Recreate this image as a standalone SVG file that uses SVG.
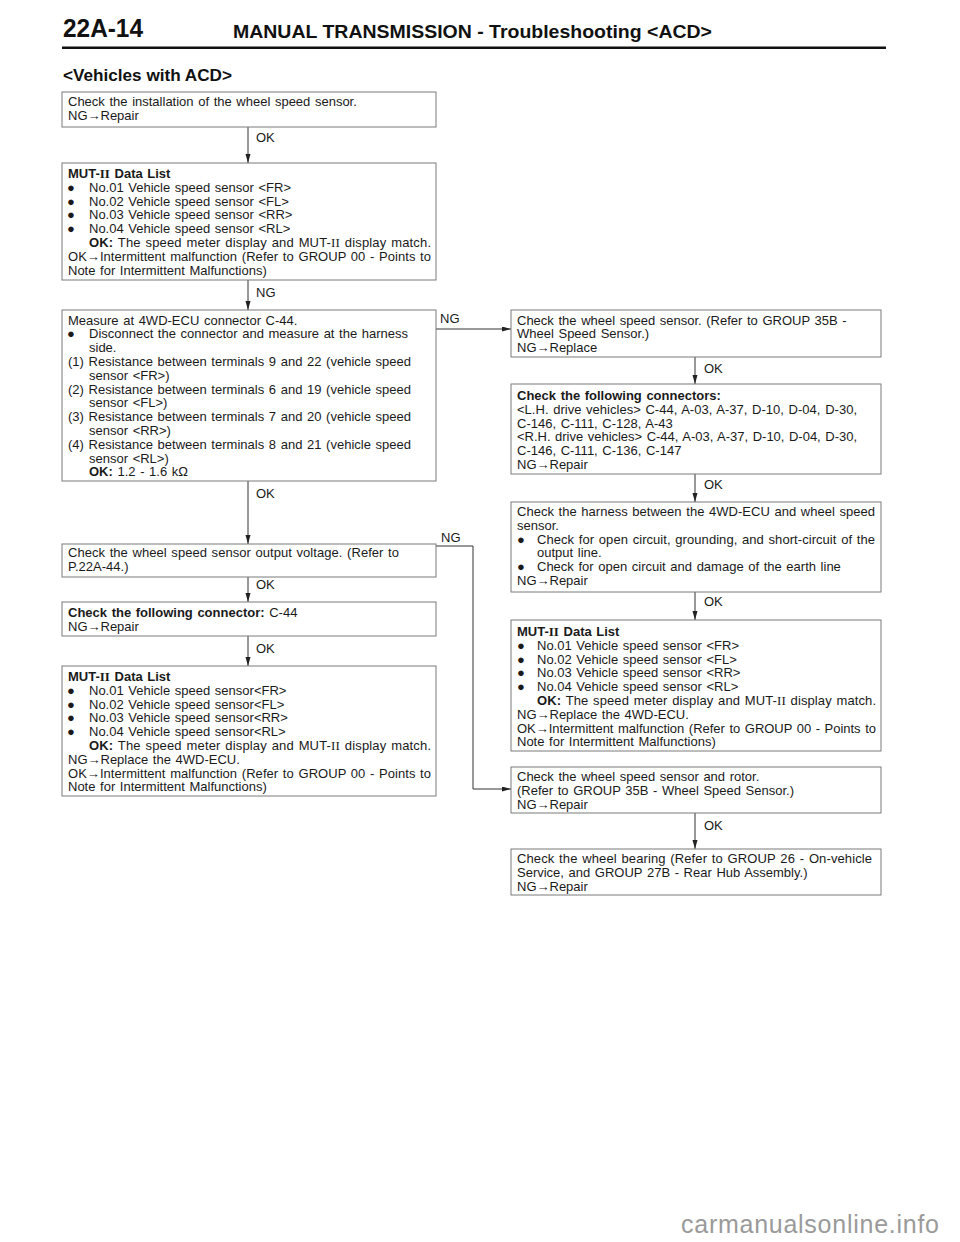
<svg xmlns="http://www.w3.org/2000/svg" width="960" height="1242" viewBox="0 0 960 1242">
<defs>
<style>
.t{font-family:"Liberation Sans",Arial,sans-serif;font-size:13px;fill:#1a1a1a;word-spacing:1px}
.b{font-weight:bold}
.s{font-family:"Liberation Serif","Times New Roman",serif}
.bu{font-family:"Liberation Sans",Arial,sans-serif;font-size:13px;fill:#1a1a1a}
.box{fill:#fff;stroke:#7a7a7a;stroke-width:1}
.c{fill:none;stroke:#333;stroke-width:1}
.h{font-family:"Liberation Sans",Arial,sans-serif;font-weight:bold;fill:#111}
</style>
<marker id="ah" markerUnits="userSpaceOnUse" markerWidth="10" markerHeight="6" refX="9" refY="2.5" orient="auto">
<path d="M0,0 L9,2.5 L0,5 z" fill="#222"/>
</marker>
</defs>
<rect width="960" height="1242" fill="#fff"/>

<g id="header">
<text class="h" x="63" y="37" font-size="25" textLength="80" lengthAdjust="spacingAndGlyphs">22A-14</text>
<text class="h" x="233" y="37.5" font-size="18" textLength="479" lengthAdjust="spacingAndGlyphs">MANUAL TRANSMISSION - Troubleshooting &lt;ACD&gt;</text>
<rect x="62" y="46.5" width="824" height="2.5" fill="#111"/>
<text class="h" x="63" y="80.5" font-size="17" textLength="169" lengthAdjust="spacingAndGlyphs">&lt;Vehicles with ACD&gt;</text>
</g>

<g id="connectors">
<line class="c" x1="248" y1="127" x2="248" y2="163" marker-end="url(#ah)"/>
<text class="t" x="256" y="142">OK</text>
<line class="c" x1="248" y1="280" x2="248" y2="310" marker-end="url(#ah)"/>
<text class="t" x="256" y="297">NG</text>
<line class="c" x1="248" y1="481" x2="248" y2="544" marker-end="url(#ah)"/>
<text class="t" x="256" y="498">OK</text>
<line class="c" x1="248" y1="577" x2="248" y2="602" marker-end="url(#ah)"/>
<text class="t" x="256" y="589">OK</text>
<line class="c" x1="248" y1="636" x2="248" y2="666" marker-end="url(#ah)"/>
<text class="t" x="256" y="653">OK</text>
<line class="c" x1="436" y1="329" x2="511" y2="329" marker-end="url(#ah)"/>
<text class="t" x="440" y="322.7">NG</text>
<polyline class="c" points="436,546 473,546 473,789 511,789" marker-end="url(#ah)"/>
<text class="t" x="441" y="542">NG</text>
<line class="c" x1="695" y1="357" x2="695" y2="384" marker-end="url(#ah)"/>
<text class="t" x="704" y="373">OK</text>
<line class="c" x1="695" y1="474" x2="695" y2="502" marker-end="url(#ah)"/>
<text class="t" x="704" y="489">OK</text>
<line class="c" x1="695" y1="592" x2="695" y2="620" marker-end="url(#ah)"/>
<text class="t" x="704" y="606">OK</text>
<line class="c" x1="695" y1="813" x2="695" y2="849" marker-end="url(#ah)"/>
<text class="t" x="704" y="830">OK</text>
</g>

<g id="n1">
<rect class="box" x="62" y="92" width="374" height="35"/>
<text class="t" x="68" y="106">Check the installation of the wheel speed sensor.</text>
<text class="t" x="68" y="120">NG→Repair</text>
</g>

<g id="n2">
<rect class="box" x="62" y="163" width="374" height="117"/>
<text class="t b" x="68" y="178">MUT-<tspan class="s">II</tspan> Data List</text>
<text class="bu" x="67" y="191.8">●</text><text class="t" x="89" y="191.8">No.01 Vehicle speed sensor &lt;FR&gt;</text>
<text class="bu" x="67" y="205.6">●</text><text class="t" x="89" y="205.6">No.02 Vehicle speed sensor &lt;FL&gt;</text>
<text class="bu" x="67" y="219.4">●</text><text class="t" x="89" y="219.4">No.03 Vehicle speed sensor &lt;RR&gt;</text>
<text class="bu" x="67" y="233.2">●</text><text class="t" x="89" y="233.2">No.04 Vehicle speed sensor &lt;RL&gt;</text>
<text class="t" x="89" y="247" textLength="342" lengthAdjust="spacing"><tspan class="b">OK:</tspan> The speed meter display and MUT-<tspan class="s">II</tspan> display match.</text>
<text class="t" x="68" y="260.8" textLength="363" lengthAdjust="spacing">OK→Intermittent malfunction (Refer to GROUP 00 - Points to</text>
<text class="t" x="68" y="274.6">Note for Intermittent Malfunctions)</text>
</g>

<g id="n3">
<rect class="box" x="62" y="310" width="374" height="171"/>
<text class="t" x="68" y="324.5">Measure at 4WD-ECU connector C-44.</text>
<text class="bu" x="67" y="338.3">●</text><text class="t" x="89" y="338.3" textLength="319" lengthAdjust="spacing">Disconnect the connector and measure at the harness</text>
<text class="t" x="89" y="352.1">side.</text>
<text class="t" x="68" y="365.9" textLength="343" lengthAdjust="spacing">(1) Resistance between terminals 9 and 22 (vehicle speed</text>
<text class="t" x="89" y="379.7">sensor &lt;FR&gt;)</text>
<text class="t" x="68" y="393.5" textLength="343" lengthAdjust="spacing">(2) Resistance between terminals 6 and 19 (vehicle speed</text>
<text class="t" x="89" y="407.3">sensor &lt;FL&gt;)</text>
<text class="t" x="68" y="421.1" textLength="343" lengthAdjust="spacing">(3) Resistance between terminals 7 and 20 (vehicle speed</text>
<text class="t" x="89" y="434.9">sensor &lt;RR&gt;)</text>
<text class="t" x="68" y="448.7" textLength="343" lengthAdjust="spacing">(4) Resistance between terminals 8 and 21 (vehicle speed</text>
<text class="t" x="89" y="462.5">sensor &lt;RL&gt;)</text>
<text class="t" x="89" y="476.3"><tspan class="b">OK:</tspan>  1.2 - 1.6 kΩ</text>
</g>

<g id="n4">
<rect class="box" x="62" y="544" width="374" height="33"/>
<text class="t" x="68" y="557" textLength="331" lengthAdjust="spacing">Check the wheel speed sensor output voltage. (Refer to</text>
<text class="t" x="68" y="570.8">P.22A-44.)</text>
</g>

<g id="n5">
<rect class="box" x="62" y="602" width="374" height="34"/>
<text class="t" x="68" y="617"><tspan class="b">Check the following connector:</tspan> C-44</text>
<text class="t" x="68" y="630.8">NG→Repair</text>
</g>

<g id="n6">
<rect class="box" x="62" y="666" width="374" height="130"/>
<text class="t b" x="68" y="681">MUT-<tspan class="s">II</tspan> Data List</text>
<text class="bu" x="67" y="694.8">●</text><text class="t" x="89" y="694.8">No.01 Vehicle speed sensor&lt;FR&gt;</text>
<text class="bu" x="67" y="708.6">●</text><text class="t" x="89" y="708.6">No.02 Vehicle speed sensor&lt;FL&gt;</text>
<text class="bu" x="67" y="722.4">●</text><text class="t" x="89" y="722.4">No.03 Vehicle speed sensor&lt;RR&gt;</text>
<text class="bu" x="67" y="736.2">●</text><text class="t" x="89" y="736.2">No.04 Vehicle speed sensor&lt;RL&gt;</text>
<text class="t" x="89" y="750" textLength="342" lengthAdjust="spacing"><tspan class="b">OK:</tspan> The speed meter display and MUT-<tspan class="s">II</tspan> display match.</text>
<text class="t" x="68" y="763.8">NG→Replace the 4WD-ECU.</text>
<text class="t" x="68" y="777.6" textLength="363" lengthAdjust="spacing">OK→Intermittent malfunction (Refer to GROUP 00 - Points to</text>
<text class="t" x="68" y="791.4">Note for Intermittent Malfunctions)</text>
</g>

<g id="r1">
<rect class="box" x="511" y="310" width="370" height="47"/>
<text class="t" x="517" y="324.5">Check the wheel speed sensor. (Refer to GROUP 35B -</text>
<text class="t" x="517" y="338.3">Wheel Speed Sensor.)</text>
<text class="t" x="517" y="352.1">NG→Replace</text>
</g>

<g id="r2">
<rect class="box" x="511" y="384" width="370" height="90"/>
<text class="t b" x="517" y="400">Check the following connectors:</text>
<text class="t" x="517" y="413.8" textLength="340" lengthAdjust="spacing">&lt;L.H. drive vehicles&gt; C-44, A-03, A-37, D-10, D-04, D-30,</text>
<text class="t" x="517" y="427.6">C-146, C-111, C-128, A-43</text>
<text class="t" x="517" y="441.4" textLength="340" lengthAdjust="spacing">&lt;R.H. drive vehicles&gt; C-44, A-03, A-37, D-10, D-04, D-30,</text>
<text class="t" x="517" y="455.2">C-146, C-111, C-136, C-147</text>
<text class="t" x="517" y="469">NG→Repair</text>
</g>

<g id="r3">
<rect class="box" x="511" y="502" width="370" height="90"/>
<text class="t" x="517" y="516" textLength="358" lengthAdjust="spacing">Check the harness between the 4WD-ECU and wheel speed</text>
<text class="t" x="517" y="529.8">sensor.</text>
<text class="bu" x="517" y="543.6">●</text><text class="t" x="537" y="543.6" textLength="338" lengthAdjust="spacing">Check for open circuit, grounding, and short-circuit of the</text>
<text class="t" x="537" y="557.4">output line.</text>
<text class="bu" x="517" y="571.2">●</text><text class="t" x="537" y="571.2">Check for open circuit and damage of the earth line</text>
<text class="t" x="517" y="585">NG→Repair</text>
</g>

<g id="r4">
<rect class="box" x="511" y="620" width="370" height="131"/>
<text class="t b" x="517" y="636">MUT-<tspan class="s">II</tspan> Data List</text>
<text class="bu" x="517" y="649.8">●</text><text class="t" x="537" y="649.8">No.01 Vehicle speed sensor &lt;FR&gt;</text>
<text class="bu" x="517" y="663.6">●</text><text class="t" x="537" y="663.6">No.02 Vehicle speed sensor &lt;FL&gt;</text>
<text class="bu" x="517" y="677.4">●</text><text class="t" x="537" y="677.4">No.03 Vehicle speed sensor &lt;RR&gt;</text>
<text class="bu" x="517" y="691.2">●</text><text class="t" x="537" y="691.2">No.04 Vehicle speed sensor &lt;RL&gt;</text>
<text class="t" x="537" y="705" textLength="339" lengthAdjust="spacing"><tspan class="b">OK:</tspan> The speed meter display and MUT-<tspan class="s">II</tspan> display match.</text>
<text class="t" x="517" y="718.8">NG→Replace the 4WD-ECU.</text>
<text class="t" x="517" y="732.6" textLength="359" lengthAdjust="spacing">OK→Intermittent malfunction (Refer to GROUP 00 - Points to</text>
<text class="t" x="517" y="746.4">Note for Intermittent Malfunctions)</text>
</g>

<g id="r5">
<rect class="box" x="511" y="767" width="370" height="46"/>
<text class="t" x="517" y="781">Check the wheel speed sensor and rotor.</text>
<text class="t" x="517" y="794.8">(Refer to GROUP 35B - Wheel Speed Sensor.)</text>
<text class="t" x="517" y="808.6">NG→Repair</text>
</g>

<g id="r6">
<rect class="box" x="511" y="849" width="370" height="46"/>
<text class="t" x="517" y="863" textLength="355" lengthAdjust="spacing">Check the wheel bearing (Refer to GROUP 26 - On-vehicle</text>
<text class="t" x="517" y="876.8">Service, and GROUP 27B - Rear Hub Assembly.)</text>
<text class="t" x="517" y="890.6">NG→Repair</text>
</g>

<g id="watermark">
<text x="681" y="1233" font-family="'Liberation Sans',Arial,sans-serif" font-size="25" fill="#9a9a9a" textLength="258" lengthAdjust="spacing">carmanualsonline.info</text>
</g>
</svg>
